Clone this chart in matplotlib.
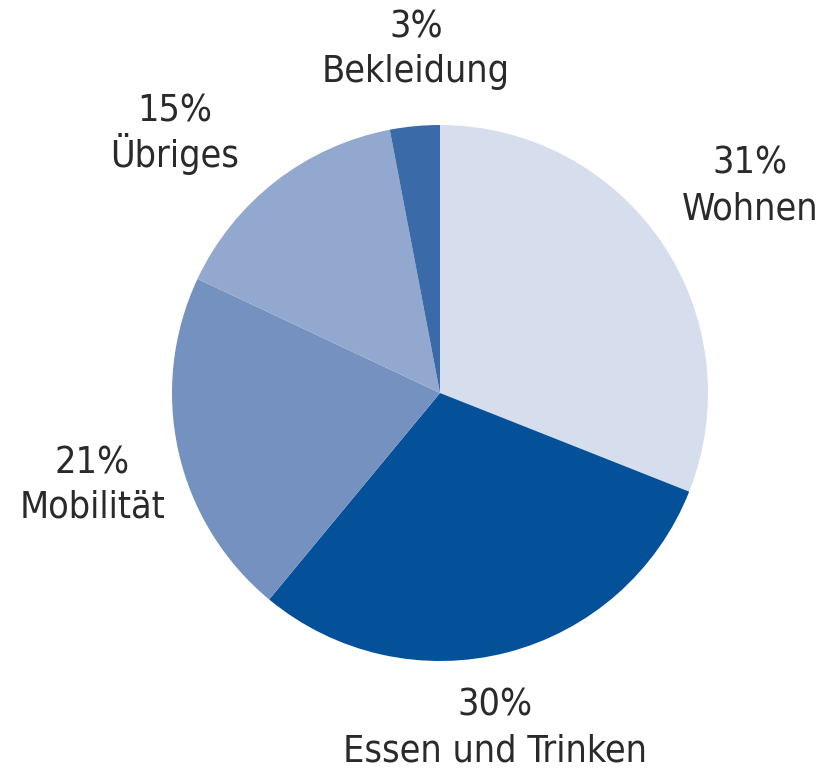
import matplotlib
matplotlib.use("Agg")
import matplotlib.pyplot as plt

categories = ["Wohnen", "Essen und Trinken", "Mobilität", "Übriges", "Bekleidung"]
shares = [31, 30, 21, 15, 3]
colors = ["#d6ddec", "#04519a", "#7591c0", "#93a8ce", "#3a6ba8"]

# label anchor in pixel coords: x centre, baseline of the percent line (from top)
label_pos = [(750, 174), (495, 716), (92, 473), (175, 122), (416, 37)]
line_gap = 45

plt.rcParams['font.family'] = ['DejaVu Sans']

W, H = 821, 768
fig = plt.figure(figsize=(W / 100, H / 100), dpi=100)
ax = fig.add_axes([0, 0, 1, 1])

cx, cy, r = 440, H - 393, 268
ax.pie(shares, colors=colors, startangle=90, counterclock=False,
       center=(cx, cy), radius=r, frame=True,
       wedgeprops=dict(linewidth=0))
ax.set_xlim(0, W)
ax.set_ylim(0, H)
ax.set_aspect("equal")
ax.axis("off")

txt = dict(ha="center", va="baseline", fontsize=27, fontstretch="condensed",
           color="#2a2a2a")
for name, val, (x, y) in zip(categories, shares, label_pos):
    ax.text(x, H - y, f"{val}%", **txt)
    ax.text(x, H - y - line_gap, name, **txt)

fig.savefig("out.png", dpi=100)
